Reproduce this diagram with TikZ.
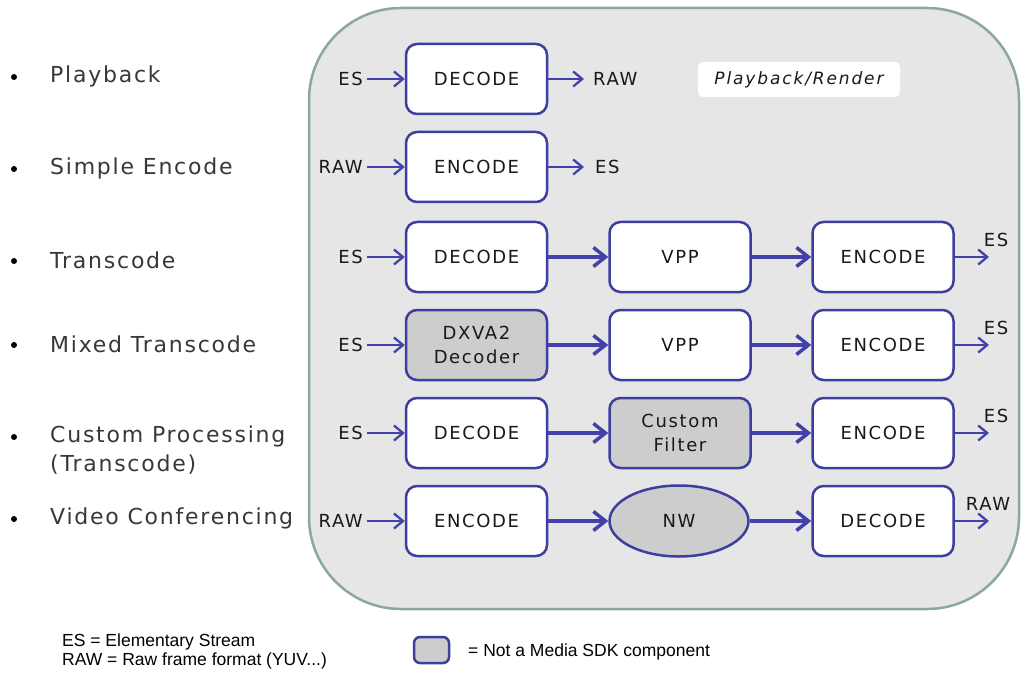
\documentclass[tikz,border=0pt]{standalone}
\usepackage{fontspec}
\setmainfont{DejaVu Sans}
\newfontfamily\boxfont[LetterSpace=9]{DejaVu Sans}
\newfontfamily\itfont[LetterSpace=11]{DejaVu Sans Oblique}
\newfontfamily\labfont[LetterSpace=8]{DejaVu Sans}
\newfontfamily\legfont{Liberation Sans}
\usetikzlibrary{arrows.meta,shapes.geometric}
\definecolor{boxblue}{RGB}{62,62,160}
\definecolor{arrblue}{RGB}{66,66,170}
\definecolor{bgray}{RGB}{230,230,230}
\definecolor{edgegray}{RGB}{140,166,166}
\definecolor{compgray}{RGB}{205,205,205}
\definecolor{txt}{RGB}{25,25,25}
\begin{document}
\begin{tikzpicture}[x=1pt,y=-1pt,
  proc/.style={draw=boxblue, line width=2.5pt, rounded corners=11pt, fill=white,
    minimum width=141pt, minimum height=70pt, inner sep=0pt, align=center,
    text=txt, font=\boxfont\fontsize{18}{24}\selectfont},
  other/.style={proc, fill=compgray},
  edgelab/.style={text=txt, font=\boxfont\fontsize{18}{20}\selectfont, inner sep=0pt},
  uselab/.style={anchor=west, inner sep=0pt, text=black!78, font=\labfont\fontsize{22}{26}\selectfont},
  bullet/.style={circle, fill=black, inner sep=0pt, minimum size=6pt},
  inarrow/.style={draw=arrblue, line width=2.3pt, -{Straight Barb[length=9pt,width=15pt]}},
  midarrow/.style={draw=arrblue, line width=3.5pt, -{Straight Barb[length=12pt,width=19pt]}},
  legtext/.style={anchor=west, inner sep=0pt, font=\legfont\fontsize{17.5}{20}\selectfont}
]
\useasboundingbox (0,0) rectangle (1022,676);

% container
\draw[draw=edgegray, line width=2.5pt, fill=bgray, rounded corners=92pt] (309,8) rectangle (1019,609);

% playback/render label
\node[fill=white, rounded corners=5pt, minimum width=202pt, minimum height=35pt, inner sep=0pt,
  text=txt, font=\itfont\fontsize{17}{20}\selectfont] (pr) at (799,79.5) {Playback/Render};

% use case labels
\node[bullet] (b1) at (14,77) {};
\node[uselab] (u1) at (50,76) {Playback};
\node[bullet] (b2) at (14,169) {};
\node[uselab] (u2) at (50,168) {Simple Encode};
\node[bullet] (b3) at (14,261) {};
\node[uselab] (u3) at (50,260) {Transcode};
\node[bullet] (b4) at (14,345) {};
\node[uselab] (u4) at (50,344) {Mixed Transcode};
\node[bullet] (b5) at (14,437) {};
\node[uselab] (u5) at (50,436) {Custom Processing};
\node[uselab] (u5b) at (50,465) {(Transcode)};
\node[bullet] (b6) at (14,519) {};
\node[uselab] (u6) at (50,518) {Video Conferencing};

% row 1
\node[proc] (d1) at (476.5,79) {DECODE};
\node[edgelab, anchor=east, inner xsep=4pt] (i1) at (367,79) {ES};
\node[edgelab, anchor=west, inner xsep=9pt] (o1) at (584,79) {RAW};
\draw[inarrow] (i1.east) -- (d1.west);
\draw[inarrow] (d1.east) -- (o1.west);

% row 2
\node[proc] (e2) at (476.5,167) {ENCODE};
\node[edgelab, anchor=east, inner xsep=4pt] (i2) at (367,167) {RAW};
\node[edgelab, anchor=west, inner xsep=11pt] (o2) at (584,167) {ES};
\draw[inarrow] (i2.east) -- (e2.west);
\draw[inarrow] (e2.east) -- (o2.west);

% row 3
\node[proc] (d3) at (476.5,257) {DECODE};
\node[proc] (v3) at (680,257) {VPP};
\node[proc] (e3) at (883,257) {ENCODE};
\node[edgelab, anchor=east, inner xsep=4pt] (i3) at (367,257) {ES};
\coordinate (c3) at (989,257);
\node[edgelab] (o3) at (996,240) {ES};
\draw[inarrow] (i3.east) -- (d3.west);
\draw[midarrow] (d3.east) -- (v3.west);
\draw[midarrow] (v3.east) -- (e3.west);
\draw[inarrow] (e3.east) -- (c3);

% row 4
\node[other] (d4) at (476.5,345) {DXVA2\\Decoder};
\node[proc] (v4) at (680,345) {VPP};
\node[proc] (e4) at (883,345) {ENCODE};
\node[edgelab, anchor=east, inner xsep=4pt] (i4) at (367,345) {ES};
\coordinate (c4) at (989,345);
\node[edgelab] (o4) at (996,328) {ES};
\draw[inarrow] (i4.east) -- (d4.west);
\draw[midarrow] (d4.east) -- (v4.west);
\draw[midarrow] (v4.east) -- (e4.west);
\draw[inarrow] (e4.east) -- (c4);

% row 5
\node[proc] (d5) at (476.5,433) {DECODE};
\node[other] (f5) at (680,433) {Custom\\Filter};
\node[proc] (e5) at (883,433) {ENCODE};
\node[edgelab, anchor=east, inner xsep=4pt] (i5) at (367,433) {ES};
\coordinate (c5) at (989,433);
\node[edgelab] (o5) at (996,416) {ES};
\draw[inarrow] (i5.east) -- (d5.west);
\draw[midarrow] (d5.east) -- (f5.west);
\draw[midarrow] (f5.east) -- (e5.west);
\draw[inarrow] (e5.east) -- (c5);

% row 6
\node[proc] (e6) at (476.5,521) {ENCODE};
\node[ellipse, draw=boxblue, line width=2.5pt, fill=compgray, minimum width=139pt, minimum height=71pt,
  inner sep=0pt, text=txt, font=\boxfont\fontsize{18}{20}\selectfont] (n6) at (679,521) {NW};
\node[proc] (d6) at (883,521) {DECODE};
\node[edgelab, anchor=east, inner xsep=4pt] (i6) at (367,521) {RAW};
\coordinate (c6) at (989,521);
\node[edgelab] (o6) at (988,504) {RAW};
\draw[inarrow] (i6.east) -- (e6.west);
\draw[midarrow] (e6.east) -- (n6.west);
\draw[midarrow] (n6.east) -- (d6.west);
\draw[inarrow] (d6.east) -- (c6);

% legend
\node[legtext] (l1) at (62,642) {ES = Elementary Stream};
\node[legtext] (l2) at (62,661) {RAW = Raw frame format (YUV...)};
\node[draw=boxblue, line width=2.5pt, fill=compgray, rounded corners=6pt, minimum width=35pt,
  minimum height=26pt, inner sep=0pt] (lg) at (431.5,650) {};
\node[legtext] (l3) at (468,652) {= Not a Media SDK component};
\end{tikzpicture}
\end{document}
